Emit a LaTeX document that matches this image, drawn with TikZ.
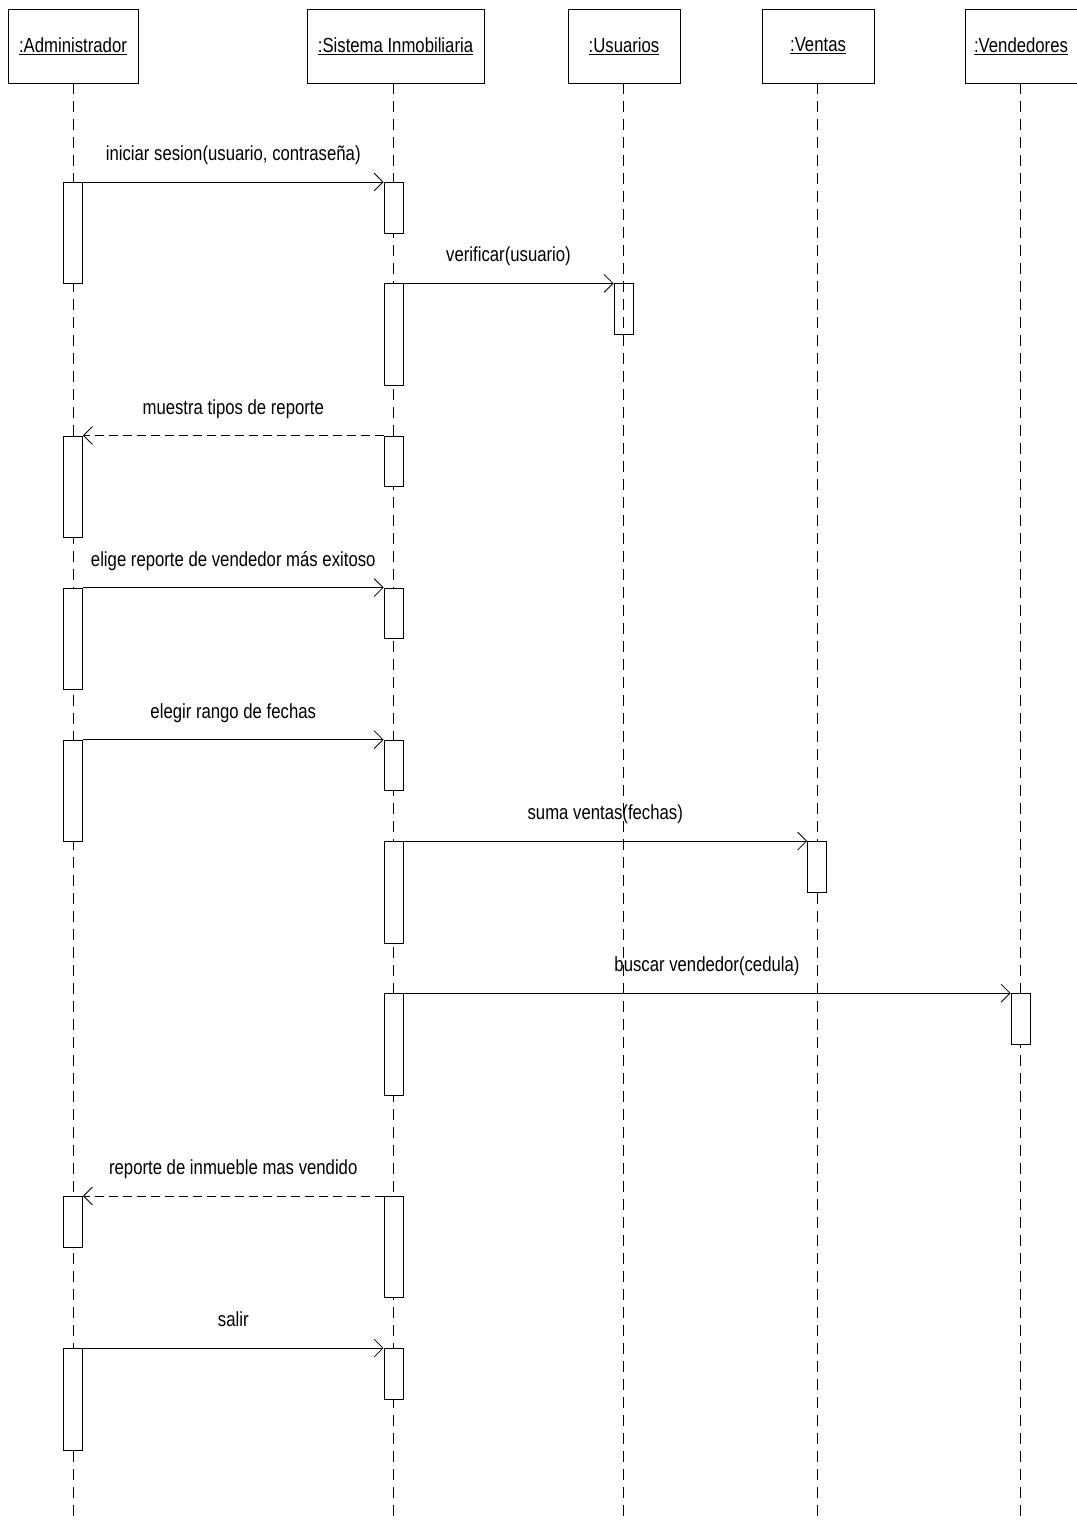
\documentclass[tikz,border=0pt]{standalone}
\usepackage{fontspec}
\setmainfont{Liberation Sans}[FakeStretch=0.82]
\usetikzlibrary{arrows.meta,positioning}
\tikzset{
  obj/.style={draw,line width=0.8pt,minimum height=74pt,inner sep=0pt,
    font=\fontsize{20.4}{24}\selectfont},
  life/.style={line width=0.8pt,dash pattern=on 11pt off 7pt},
  act/.style={draw,fill=white,line width=0.8pt,minimum width=19pt,inner sep=0pt,anchor=north},
  sbar/.style={act,minimum height=50.7pt},
  lbar/.style={act,minimum height=101.4pt},
  msg/.style={-{Straight Barb[length=9pt,width=18pt]},line width=0.8pt},
  ret/.style={msg,dash pattern=on 9pt off 5pt},
  lbl/.style={anchor=base,yshift=21.5pt,inner sep=0pt,font=\fontsize{20.4}{24}\selectfont}
}

\begin{document}
\begin{tikzpicture}[x=1pt,y=-1pt]
\useasboundingbox (0,0) rectangle (1076,1522);
% objects
\node[obj,minimum width=130pt] (adm) at (73,46) {\underline{:Administrador}};
\node[obj,minimum width=177pt] (sis) at (395.5,46) {\underline{:Sistema Inmobiliaria}};
\node[obj,minimum width=112pt] (usu) at (624,46) {\underline{:Usuarios}};
\node[obj,minimum width=112pt] (ven) at (818,46) {\underline{:Ventas}};
\node[obj,minimum width=112pt] (vnd) at (1021,46) {\underline{:Vendedores}};
% lifelines
\foreach \n/\x in {adm/73,sis/393.5,usu/623.5,ven/817,vnd/1020.5}
  \draw[life] (\x,83) -- (\x,1522);

% activations
\node[lbar] (a1) at (73,182) {};
\node[sbar] (s1) at (393.5,182) {};
\node[lbar] (s2) at (393.5,283.4) {};
\node[sbar,fill=none] (u2) at (623.5,283.4) {};
\node[lbar] (a3) at (73,435.5) {};
\node[sbar] (s3) at (393.5,435.5) {};
\node[lbar] (a4) at (73,587.6) {};
\node[sbar] (s4) at (393.5,587.6) {};
\node[lbar] (a5) at (73,739.7) {};
\node[sbar] (s5) at (393.5,739.7) {};
\node[lbar] (s6) at (393.5,841.1) {};
\node[sbar] (v6) at (817,841.1) {};
\node[lbar] (s7) at (393.5,993.2) {};
\node[sbar] (d7) at (1020.5,993.2) {};
\node[sbar] (a8) at (73,1196) {};
\node[lbar] (s8) at (393.5,1196) {};
\node[lbar] (a9) at (73,1348.1) {};
\node[sbar] (s9) at (393.5,1348.1) {};

% messages
\draw[msg] (a1.north east) -- node[lbl]{iniciar sesion(usuario, contraseña)} (s1.north west);
\draw[msg] (s2.north east) -- node[lbl]{verificar(usuario)} (u2.north west);
\draw[ret] (s3.north west) -- node[lbl]{muestra tipos de reporte} (a3.north east);
\draw[msg] (a4.north east) -- node[lbl]{elige reporte de vendedor más exitoso} (s4.north west);
\draw[msg] (a5.north east) -- node[lbl]{elegir rango de fechas} (s5.north west);
\draw[msg] (s6.north east) -- node[lbl]{suma ventas(fechas)} (v6.north west);
\draw[msg] (s7.north east) -- node[lbl]{buscar vendedor(cedula)} (d7.north west);
\draw[ret] (s8.north west) -- node[lbl]{reporte de inmueble mas vendido} (a8.north east);
\draw[msg] (a9.north east) -- node[lbl]{salir} (s9.north west);
\end{tikzpicture}
\end{document}
